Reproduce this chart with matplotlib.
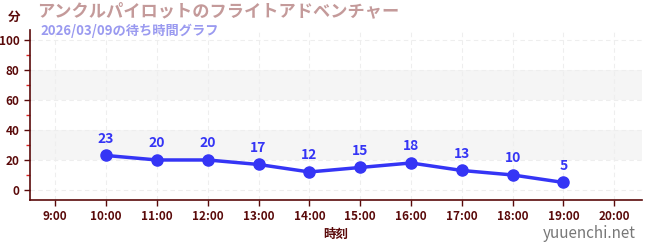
import matplotlib
matplotlib.use("Agg")
import matplotlib.pyplot as plt
from matplotlib.ticker import MultipleLocator

plt.rcParams['font.family'] = ['Noto Sans CJK JP', 'DejaVu Sans']

hours = [10, 11, 12, 13, 14, 15, 16, 17, 18, 19]
waits = [23, 20, 20, 17, 12, 15, 18, 13, 10, 5]
xticks = list(range(9, 21))
xlabels = [f"{h}:00" for h in xticks]
yticks = [0, 20, 40, 60, 80, 100]

title = "アンクルパイロットのフライトアドベンチャー"
subtitle = "2026/03/09の待ち時間グラフ"

axis_col = "#5a0a0a"
blue = "#3535f5"

fig = plt.figure(figsize=(6.5, 2.5), dpi=100)
ax = fig.add_axes([0.046, 0.2, 0.942, 0.68])

# shaded bands
for lo, hi in [(20, 40), (60, 80)]:
    ax.axhspan(lo, hi, color="#f5f5f5", zorder=0, lw=0)

ax.plot(hours, waits, color=blue, lw=2.5, marker="o", ms=8, zorder=3)
for h, w in zip(hours, waits):
    ax.annotate(str(w), (h, w), xytext=(0, 7), textcoords="offset points",
                ha="center", va="bottom", color=blue, fontsize=10, fontweight="bold")

ax.set_xlim(8.5, 20.55)
ax.set_ylim(-6.7, 106.7)
ax.set_xticks(xticks)
ax.set_xticklabels(xlabels)
ax.set_yticks(yticks)
ax.yaxis.set_minor_locator(MultipleLocator(10))
ax.grid(True, which="major", color="#eeeeee", ls=(0, (4, 3)), lw=0.8, zorder=1)

for s in ["top", "right"]:
    ax.spines[s].set_visible(False)
for s in ["left", "bottom"]:
    ax.spines[s].set_color(axis_col)
    ax.spines[s].set_linewidth(1.2)

ax.tick_params(axis="both", which="major", colors=axis_col, labelsize=8.5, length=4, width=1)
ax.tick_params(axis="y", which="minor", colors="#dd2222", length=3, width=1)
for lab in ax.get_xticklabels() + ax.get_yticklabels():
    lab.set_fontweight("bold")
    lab.set_color(axis_col)

ax.set_xlabel("時刻", color=axis_col, fontsize=9, fontweight="bold", labelpad=3)

fig.text(0.022, 0.93, "分", color=axis_col, fontsize=9, fontweight="bold", ha="center", va="center")
fig.text(0.057, 0.955, title, color="#c49a9a", fontsize=12.4, fontweight="bold", ha="left", va="center")
fig.text(0.063, 0.875, subtitle, color="#9a9af0", fontsize=9.5, fontweight="bold", ha="left", va="center")
fig.text(0.978, 0.065, "yuuenchi.net", color="#777777", fontsize=11, ha="right", va="center")

fig.savefig("out.png", dpi=100)
